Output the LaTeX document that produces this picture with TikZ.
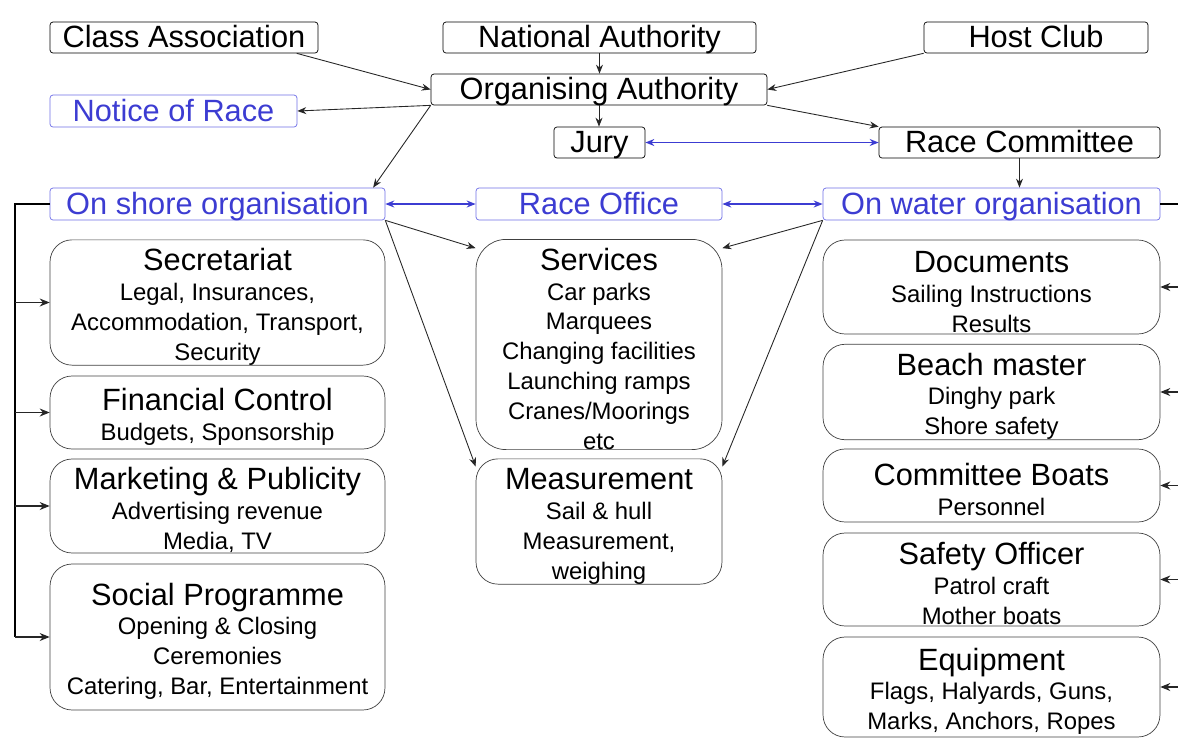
\documentclass[tikz,border=0pt]{standalone}
\usepackage{fontspec}
\setmainfont{Liberation Sans}
\usepackage{xcolor}
\usepackage{tikz}
\usetikzlibrary{arrows.meta}

\definecolor{orgblue}{RGB}{60,60,210}
\definecolor{boxblue}{RGB}{110,110,230}

\tikzset{
  topbox/.style={draw=black,rounded corners=0.6mm,inner sep=0pt,minimum height=6.2mm,text height=14.5pt,text depth=2.8pt,font=\fontsize{17.5}{20}\selectfont},
  bluebox/.style={draw=boxblue,text=orgblue,rounded corners=0.6mm,inner sep=0pt,minimum height=6.4mm,text height=14.5pt,text depth=2.8pt,font=\fontsize{17.5}{20}\selectfont},
  taskbox/.style={draw=black!75,rounded corners=4.4mm,inner sep=0pt,align=center,font=\fontsize{13.6}{17}\selectfont},
  arr/.style={-{Stealth[length=1.8mm,width=1.4mm]},black!85,line width=0.5pt},
  barr/.style={{Stealth[length=1.8mm,width=1.4mm]}-{Stealth[length=1.8mm,width=1.4mm]},orgblue,line width=0.8pt},
  bus/.style={black,line width=0.8pt}
}
\newcommand{\hd}[1]{{\fontsize{17.5}{17}\selectfont\rule{0pt}{17.5pt}#1}}

\begin{document}
\begin{tikzpicture}[x=0.02cm,y=-0.02cm]
\useasboundingbox (0,0) rectangle (1178,738);
\clip (0,0) rectangle (1178,738);

% Authorities
\node[topbox,minimum width=53.6mm] (classA) at (184,37.5) {Class Association};
\node[topbox,minimum width=62.6mm] (natA) at (599.5,37.5) {National Authority};
\node[topbox,minimum width=44.8mm] (hostC) at (1036,37.5) {Host Club};
\node[topbox,minimum width=67.2mm] (orgA) at (599,89.5) {Organising Authority};
\node[bluebox,minimum width=49.4mm] (notice) at (173.5,111) {Notice of Race};
\node[topbox,minimum width=18.2mm] (jury) at (599.5,142.5) {Jury};
\node[topbox,minimum width=56.2mm] (raceC) at (1019.5,142.5) {Race Committee};

% Organisation row
\node[bluebox,minimum width=67mm] (shore) at (217.5,204) {On shore organisation};
\node[bluebox,minimum width=49.2mm] (office) at (599,204) {Race Office};
\node[bluebox,minimum width=67.4mm] (water) at (991.5,204) {On water organisation};

% On shore tasks
\node[taskbox,minimum width=67mm,minimum height=25mm] (secr) at (217.5,302.5)
  {\hd{Secretariat}\\Legal, Insurances,\\Accommodation, Transport,\\Security};
\node[taskbox,minimum width=67mm,minimum height=14.6mm] (fin) at (217.5,412.5)
  {\hd{Financial Control}\\Budgets, Sponsorship};
\node[taskbox,minimum width=67mm,minimum height=18.8mm] (mkt) at (217.5,506)
  {\hd{Marketing \& Publicity}\\Advertising revenue\\Media, TV};
\node[taskbox,minimum width=67mm,minimum height=29.2mm] (social) at (217.5,637)
  {\hd{Social Programme}\\Opening \& Closing\\Ceremonies\\Catering, Bar, Entertainment};

% Shared tasks
\node[taskbox,rounded corners=6mm,minimum width=49.2mm,minimum height=41.8mm] (serv) at (599,344.5)
  {\hd{Services}\\Car parks\\Marquees\\Changing facilities\\Launching ramps\\Cranes/Moorings\\etc};
\node[taskbox,minimum width=49.2mm,minimum height=25mm] (meas) at (599,521.5)
  {\hd{Measurement}\\Sail \& hull\\Measurement,\\weighing};

% On water tasks
\node[taskbox,minimum width=67.4mm,minimum height=18.8mm] (docs) at (991.5,287)
  {\hd{Documents}\\Sailing Instructions\\Results};
\node[taskbox,minimum width=67.4mm,minimum height=18.8mm] (beach) at (991.5,392)
  {\hd{Beach master}\\Dinghy park\\Shore safety};
\node[taskbox,minimum width=67.4mm,minimum height=14.6mm] (cboats) at (991.5,485.5)
  {\hd{Committee Boats}\\Personnel};
\node[taskbox,minimum width=67.4mm,minimum height=18.6mm] (safety) at (991.5,579.5)
  {\hd{Safety Officer}\\Patrol craft\\Mother boats};
\node[taskbox,minimum width=67.4mm,minimum height=20mm] (equip) at (991.5,687)
  {\hd{Equipment}\\Flags, Halyards, Guns,\\Marks, Anchors, Ropes};

% Top connectors
\draw[arr] (classA.-8) -- (orgA.west);
\draw[arr] (natA.south) -- (natA.south |- orgA.north);
\draw[arr] (hostC.188) -- (orgA.east);
\draw[arr] (orgA.south west) -- (notice.east);
\draw[arr] (orgA.south) -- (orgA.south |- jury.north);
\draw[arr] (orgA.south east) -- (raceC.north west);
\draw[arr] (orgA.south west) -- (shore.6);
\draw[arr] (raceC.south) -- (raceC.south |- water.north);
\draw[barr] (jury.east) -- (raceC.west);
\draw[barr] (shore.east) -- (office.west);
\draw[barr] (office.east) -- (water.west);

% To shared tasks
\draw[arr] (shore.south east) -- (serv.142);
\draw[arr] (shore.south east) -- (meas.156);
\draw[arr] (water.south west) -- (serv.38);
\draw[arr] (water.south west) -- (meas.24);

% Left bus
\coordinate (lbus) at (15,0);
\draw[bus] (shore.west) -| (lbus |- social.west);
\foreach \t in {secr,fin,mkt,social}
  \draw[arr,line width=0.7pt,-{Stealth[length=2mm,width=1.6mm]}] (lbus |- \t.west) -- (\t.west);

% Right bus
\coordinate (rbus) at (1195,0);
\draw[bus] (water.east) -| (rbus |- equip.east);
\foreach \t in {docs,beach,cboats,safety,equip}
  \draw[arr,line width=0.7pt,-{Stealth[length=2mm,width=1.6mm]}] (rbus |- \t.east) -- (\t.east);
\end{tikzpicture}
\end{document}
